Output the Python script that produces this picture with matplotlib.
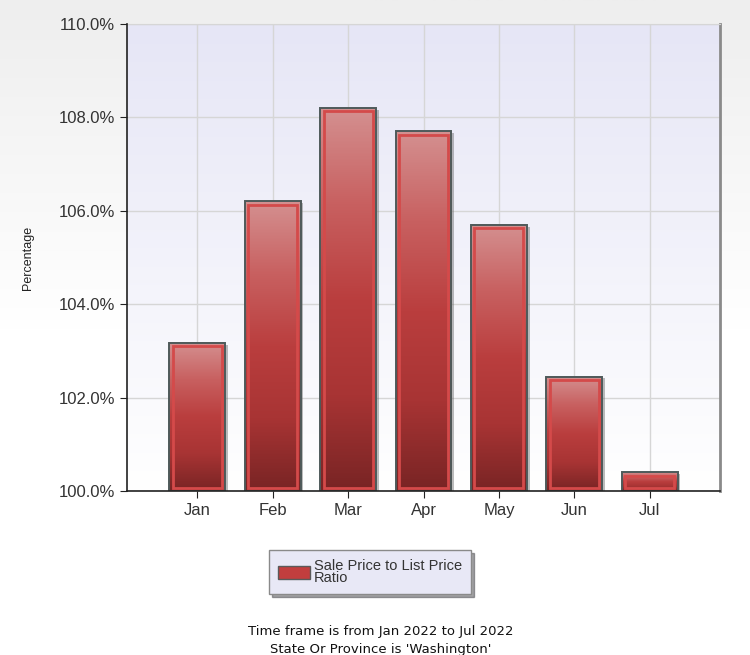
import numpy as np
import matplotlib
matplotlib.use("Agg")
import matplotlib.pyplot as plt
from matplotlib.patches import Rectangle, Patch
from matplotlib.colors import LinearSegmentedColormap

months = ["Jan", "Feb", "Mar", "Apr", "May", "Jun", "Jul"]
ratio_pct = [103.17, 106.2, 108.2, 107.7, 105.7, 102.45, 100.4]
y_ticks = [100, 102, 104, 106, 108, 110]
series_label = "Sale Price to List Price\nRatio"
footer_lines = ["Time frame is from Jan 2022 to Jul 2022",
                "State Or Province is 'Washington'"]

plt.rcParams["font.family"] = ["Liberation Sans", "DejaVu Sans"]

fig = plt.figure(figsize=(7.5, 6.55), dpi=100)

# figure background: light grey fading to white
bg = fig.add_axes([0, 0, 1, 1], zorder=-10)
bg_grad = np.linspace(0, 1, 256).reshape(-1, 1)
bg_cmap = LinearSegmentedColormap.from_list("bg", ["#EEEEEE", "#FFFFFF", "#FFFFFF"])
bg.imshow(bg_grad, aspect="auto", cmap=bg_cmap, extent=[0, 1, 0, 1], origin="upper")
bg.axis("off")

ax = fig.add_axes([127 / 750, 1 - 491 / 655, 593 / 750, 467 / 655])
ax.set_facecolor("none")

# plot area background: lavender at top to white at bottom
plot_cmap = LinearSegmentedColormap.from_list("plot", ["#E6E6F6", "#FFFFFF"])
ax.imshow(np.linspace(0, 1, 256).reshape(-1, 1), aspect="auto", cmap=plot_cmap,
          extent=[0, 1, 0, 1], origin="upper", transform=ax.transAxes, zorder=0)

bar_cmap = LinearSegmentedColormap.from_list(
    "bar", ["#D49090", "#C86060", "#BA3E3E", "#A83434", "#782424"])
width = 0.74
x = np.arange(len(months))
base = 100
for xi, val in zip(x, ratio_pct):
    left = xi - width / 2
    # shadow
    ax.add_patch(Rectangle((left + 0.035, base), width, val - base - 0.04,
                           facecolor="#6A6A6A", edgecolor="none", alpha=0.45, zorder=2))
    ax.imshow(np.linspace(0, 1, 256).reshape(-1, 1), aspect="auto", cmap=bar_cmap,
              extent=[left, left + width, base, val], origin="upper", zorder=3)
    ax.add_patch(Rectangle((left + 0.045, base + 0.07), width - 0.09, val - base - 0.14,
                           facecolor="none", edgecolor="#D44A4A", linewidth=2.0, zorder=4))
    ax.add_patch(Rectangle((left, base), width, val - base,
                           facecolor="none", edgecolor="#4E5A5A", linewidth=1.4, zorder=5))

ax.set_xlim(-0.93, 6.93)
ax.set_ylim(100, 110)
ax.set_xticks(x)
ax.set_xticklabels(months)
ax.set_yticks(y_ticks)
ax.set_yticklabels([f"{t:.1f}%" for t in y_ticks])
ax.tick_params(axis="both", labelsize=12, direction="out", length=5,
               colors="#222222", labelcolor="#333333")
ax.grid(True, color="#D6D6D6", linewidth=1.0, zorder=1)
ax.set_axisbelow(True)

for side in ["left", "bottom"]:
    ax.spines[side].set_color("#222222")
    ax.spines[side].set_linewidth(1.2)
    ax.spines[side].set_zorder(6)
ax.spines["top"].set_color("#D6D6D6")
ax.spines["right"].set_color("#8A8A8A")
ax.spines["right"].set_linewidth(2.0)

ax.set_ylabel("Percentage", fontsize=9, color="#222222", labelpad=18)

handle = Patch(facecolor="#C23E3E", edgecolor="#5A5A5A", linewidth=1.0)
leg = fig.legend(handles=[handle], labels=[series_label], loc="center",
                 bbox_to_anchor=(370 / 750, 1 - 572 / 655), fontsize=10.5,
                 frameon=True, fancybox=False, shadow=True, handlelength=2.2,
                 handleheight=0.9, handletextpad=0.3, borderpad=0.6, labelspacing=0.1)
leg.get_frame().set_facecolor("#E8E8F6")
leg.get_frame().set_edgecolor("#8A8A8A")
for t in leg.get_texts():
    t.set_color("#333333")
    t.set_linespacing(0.9)

fig.text(381 / 750, 1 - 632 / 655, footer_lines[0], ha="center", va="center",
         fontsize=9.5, family="DejaVu Sans", color="#111111")
fig.text(381 / 750, 1 - 650 / 655, footer_lines[1], ha="center", va="center",
         fontsize=9.5, family="DejaVu Sans", color="#111111")

fig.savefig("out.png", dpi=100)
